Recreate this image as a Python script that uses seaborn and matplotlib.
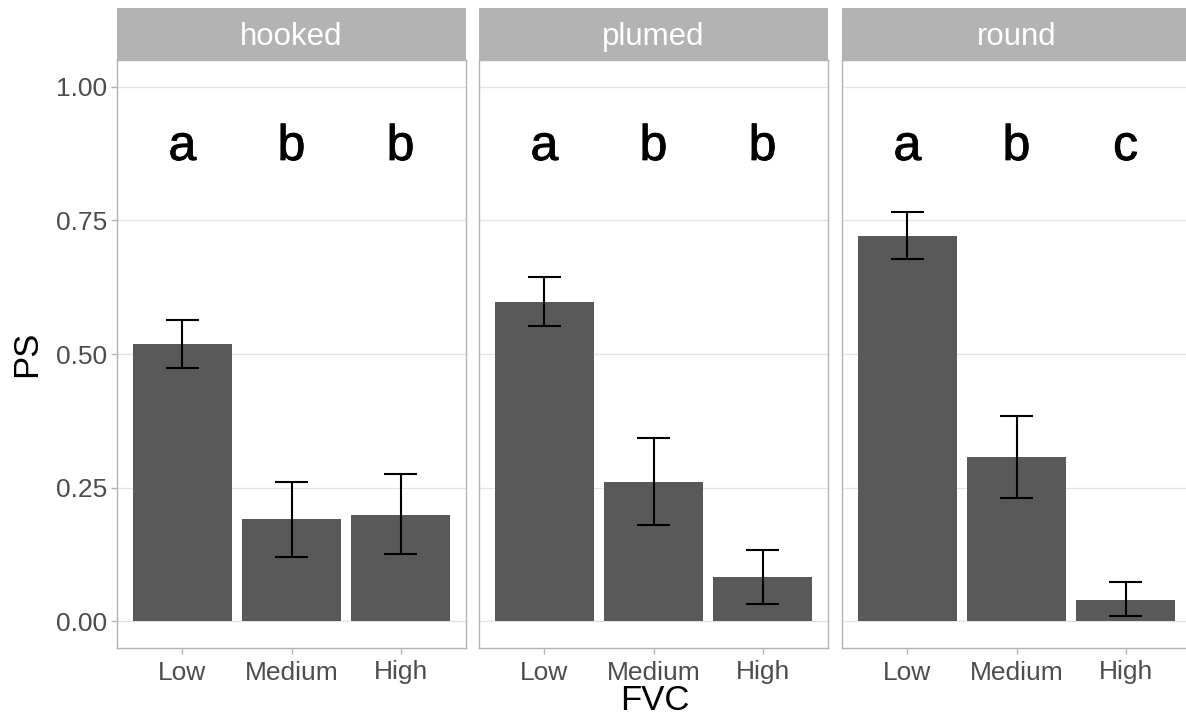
import matplotlib
matplotlib.use("Agg")
import matplotlib.pyplot as plt
import matplotlib.patheffects as pe
import seaborn as sns
import pandas as pd
from matplotlib.patches import Rectangle

# ---- data ----
shapes = ["hooked", "plumed", "round"]
fvc_levels = ["Low", "Medium", "High"]
ps_hooked = [0.518, 0.191, 0.198]
ps_plumed = [0.597, 0.260, 0.083]
ps_round = [0.721, 0.307, 0.039]
lo_hooked = [0.473, 0.120, 0.126]
hi_hooked = [0.564, 0.261, 0.275]
lo_plumed = [0.553, 0.180, 0.032]
hi_plumed = [0.644, 0.342, 0.133]
lo_round = [0.678, 0.231, 0.009]
hi_round = [0.765, 0.384, 0.073]
letters_hooked = ["a", "b", "b"]
letters_plumed = ["a", "b", "b"]
letters_round = ["a", "b", "c"]
letter_y = 0.863
y_ticks = [0.0, 0.25, 0.50, 0.75, 1.00]
y_tick_labels = ["0.00", "0.25", "0.50", "0.75", "1.00"]

sns.set_theme(style="white")
plt.rcParams["font.family"] = ["Liberation Sans", "DejaVu Sans"]

W, H = 1186, 722
fig = plt.figure(figsize=(W / 100, H / 100), dpi=100)

panels = [
    (shapes[0], ps_hooked, lo_hooked, hi_hooked, letters_hooked),
    (shapes[1], ps_plumed, lo_plumed, hi_plumed, letters_plumed),
    (shapes[2], ps_round, lo_round, hi_round, letters_round),
]
lefts = [117, 479, 842]
pw = 349
ptop, pbot = 60, 648
strip_top = 8

border = "#B3B3B3"
grid_c = "#E3E3E3"
tick_c = "#4D4D4D"

for i, (name, vals, lo, hi, letters) in enumerate(panels):
    ax = fig.add_axes([lefts[i] / W, (H - pbot) / H, pw / W, (pbot - ptop) / H])
    df = pd.DataFrame({"FVC": fvc_levels, "PS": vals})
    sns.barplot(data=df, x="FVC", y="PS", order=fvc_levels, color="#595959",
                saturation=1, width=0.9, errorbar=None, ax=ax, zorder=2,
                edgecolor="none", linewidth=0)
    xs = list(range(len(fvc_levels)))
    ax.vlines(xs, lo, hi, color="black", linewidth=1.5, zorder=3)
    ax.hlines(lo, [x - 0.15 for x in xs], [x + 0.15 for x in xs], color="black", linewidth=1.5, zorder=3)
    ax.hlines(hi, [x - 0.15 for x in xs], [x + 0.15 for x in xs], color="black", linewidth=1.5, zorder=3)
    for x, t in zip(xs, letters):
        ax.text(x, letter_y, t, ha="center", va="baseline", fontsize=36,
                fontweight="normal", color="black", zorder=4,
                path_effects=[pe.withStroke(linewidth=0.6, foreground="black")])
    ax.set_xlim(-0.6, 2.6)
    ax.set_ylim(-0.05, 1.05)
    ax.set_yticks(y_ticks)
    for yv in y_ticks:
        ax.axhline(yv, color=grid_c, linewidth=0.9, zorder=0)
    for s in ax.spines.values():
        s.set_color(border)
        s.set_linewidth(1.0)
        s.set_visible(True)
    ax.tick_params(axis="x", length=4, width=1.0, color=border, labelsize=19,
                   labelcolor=tick_c, pad=5, bottom=True)
    if i == 0:
        ax.set_yticklabels(y_tick_labels)
        ax.tick_params(axis="y", length=4, width=1.0, color=border, labelsize=19,
                       labelcolor=tick_c, pad=3, left=True)
    else:
        ax.tick_params(axis="y", left=False, labelleft=False)
    ax.set_xlabel("")
    ax.set_ylabel("")
    ax.grid(False)
    # strip
    sax = fig.add_axes([lefts[i] / W, (H - ptop) / H, pw / W, (ptop - strip_top) / H])
    sax.set_xlim(0, 1)
    sax.set_ylim(0, 1)
    sax.add_patch(Rectangle((0, 0), 1, 1, facecolor=border, edgecolor=border, linewidth=1.0))
    sax.text(0.5, 0.45, name, ha="center", va="center", fontsize=22.5, color="white")
    sax.axis("off")

fig.text(655 / W, 1 - 700 / H, "FVC", ha="center", va="center", fontsize=25, color="black")
fig.text(27 / W, 1 - 354 / H, "PS", ha="center", va="center", fontsize=25, color="black", rotation=90)

fig.savefig("out.png", dpi=100)
